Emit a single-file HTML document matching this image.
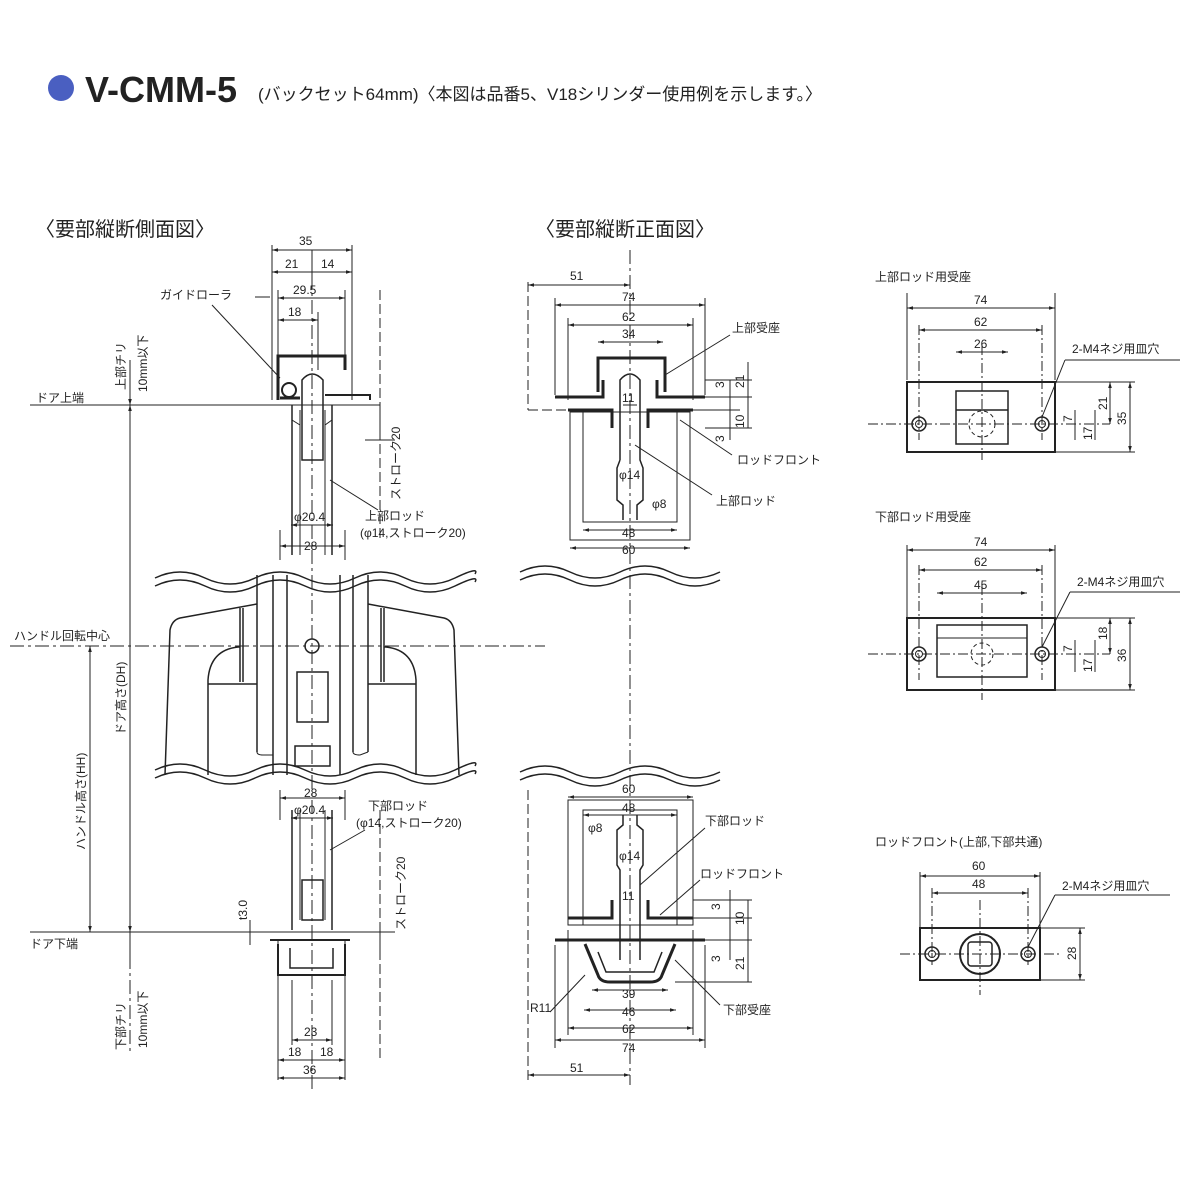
<!DOCTYPE html>
<html><head><meta charset="utf-8"><style>
body{margin:0;background:#fff}
svg{display:block}
text{font-family:"Liberation Sans","Noto Sans CJK JP",sans-serif;fill:#222}
</style></head><body>
<svg width="1200" height="1200" viewBox="0 0 1200 1200" xmlns="http://www.w3.org/2000/svg">
<defs>
<marker id="a" viewBox="0 0 10 10" refX="10" refY="5" markerWidth="6" markerHeight="6" orient="auto-start-reverse"><path d="M0,2 L10,5 L0,8z" fill="#222"/></marker>
</defs>
<!-- title -->
<circle cx="61" cy="88" r="13" fill="#4a5fc1"/>
<text x="85" y="102" font-size="36" font-weight="bold" fill="#333">V-CMM-5</text>
<text x="258" y="100" font-size="17">(バックセット64mm)〈本図は品番5、V18シリンダー使用例を示します。〉</text>
<text x="35" y="236" font-size="20">〈要部縦断側面図〉</text>
<text x="535" y="236" font-size="20">〈要部縦断正面図〉</text>

<g stroke="#222" fill="none" stroke-width="1">
<!-- LEFT: reference lines -->
<line x1="30" y1="405" x2="380" y2="405"/>
<line x1="30" y1="932" x2="380" y2="932"/>
<line x1="10" y1="646" x2="545" y2="646" stroke-dasharray="14,4,3,4"/>
<line x1="130" y1="405" x2="130" y2="1055" stroke-dasharray="14,4,3,4"/>
<line x1="130" y1="405" x2="130" y2="932" marker-start="url(#a)" marker-end="url(#a)"/>
<line x1="90" y1="646" x2="90" y2="932" marker-start="url(#a)" marker-end="url(#a)"/>
<line x1="312" y1="250" x2="312" y2="1090" stroke-dasharray="14,4,3,4"/>
<line x1="380" y1="290" x2="380" y2="540" stroke-dasharray="10,4"/>
<line x1="380" y1="810" x2="380" y2="1060" stroke-dasharray="10,4"/>
<line x1="130" y1="360" x2="130" y2="405" marker-end="url(#a)"/>
<line x1="130" y1="932" x2="130" y2="960"/>
<!-- left top dims -->
<line x1="272" y1="245" x2="272" y2="400"/><line x1="352" y1="245" x2="352" y2="400"/>
<line x1="272" y1="250" x2="352" y2="250" marker-start="url(#a)" marker-end="url(#a)"/>
<line x1="272" y1="272" x2="352" y2="272" marker-start="url(#a)" marker-end="url(#a)"/>
<line x1="312" y1="262" x2="312" y2="280"/>
<line x1="278" y1="298" x2="345" y2="298" marker-start="url(#a)" marker-end="url(#a)"/>
<line x1="278" y1="320" x2="318" y2="320" marker-start="url(#a)" marker-end="url(#a)"/>
<line x1="278" y1="290" x2="278" y2="360"/><line x1="345" y1="290" x2="345" y2="360"/><line x1="318" y1="312" x2="318" y2="370"/>
<!-- top housing -->
<path d="M278,400 L278,356 L345,356 L345,370" stroke-width="3"/>
<path d="M280,398 L300,398" stroke-width="3"/>
<path d="M325,395 L370,395 L370,400" stroke-width="2"/>
<circle cx="289" cy="390" r="7" stroke-width="2"/>
<path d="M302,460 L302,380 Q312,368 323,380 L323,460 Z" stroke-width="1.5"/>
<line x1="292" y1="405" x2="292" y2="555" stroke-width="1.5"/><line x1="332" y1="405" x2="332" y2="555" stroke-width="1.5"/>
<line x1="300" y1="410" x2="300" y2="555"/><line x1="325" y1="410" x2="325" y2="555"/>
<path d="M292,405 L292,420 L300,425" /><path d="M332,405 L332,420 L325,425"/>
<line x1="291" y1="525" x2="333" y2="525" marker-start="url(#a)" marker-end="url(#a)"/>
<line x1="280" y1="546" x2="345" y2="546" marker-start="url(#a)" marker-end="url(#a)"/>
<line x1="280" y1="530" x2="280" y2="560"/><line x1="345" y1="530" x2="345" y2="560"/>
<line x1="380" y1="405" x2="380" y2="440"/><line x1="365" y1="440" x2="395" y2="440"/>
<path d="M212,305 L280,378"/><path d="M255,297 L270,297"/>
<line x1="330" y1="480" x2="378" y2="510"/>
<!-- wave left -->
<path d="M155,578 q25,-12 50,0 t50,0 t50,0 t50,0 t50,0 t50,0 t20,-4" stroke-width="1.5"/>
<path d="M155,586 q25,-12 50,0 t50,0 t50,0 t50,0 t50,0 t50,0 t20,-4" stroke-width="1.5"/>
<path d="M155,770 q25,-12 50,0 t50,0 t50,0 t50,0 t50,0 t50,0 t20,-4" stroke-width="1.5"/>
<path d="M155,778 q25,-12 50,0 t50,0 t50,0 t50,0 t50,0 t50,0 t20,-4" stroke-width="1.5"/>
<!-- door edges -->
<line x1="257" y1="575" x2="257" y2="752" stroke-width="1.5"/><line x1="273" y1="575" x2="273" y2="775" stroke-width="1.5"/><line x1="287" y1="575" x2="287" y2="775" stroke-width="1.5"/>
<line x1="340" y1="575" x2="340" y2="775" stroke-width="1.5"/><line x1="353" y1="575" x2="353" y2="752" stroke-width="1.5"/><line x1="368" y1="575" x2="368" y2="752" stroke-width="1.5"/>
<path d="M257,752 Q257,755 263,755 L273,755"/><path d="M353,752 Q353,755 360,755 L368,752"/>
<!-- handles -->
<path d="M165,775 L170,630 Q172,620 180,618 L257,604" stroke-width="1.5"/>
<path d="M208,775 L208,680 Q210,650 238,647 L240,647 M208,684 L257,684 M240,608 L240,682 M243,608 L243,682" stroke-width="1.5"/>
<path d="M459,775 L454,630 Q452,620 444,618 L368,604" stroke-width="1.5"/>
<path d="M416,775 L416,680 Q414,650 386,647 L384,647 M416,684 L368,684 M384,608 L384,682 M381,608 L381,682" stroke-width="1.5"/>
<circle cx="312" cy="646" r="7" stroke-width="1.5"/>
<rect x="297" y="672" width="31" height="50" stroke-width="1.5"/>
<rect x="295" y="746" width="35" height="20" stroke-width="1.5"/>
<!-- bottom housing -->
<line x1="292" y1="810" x2="292" y2="930" stroke-width="1.5"/><line x1="332" y1="810" x2="332" y2="930" stroke-width="1.5"/>
<line x1="300" y1="810" x2="300" y2="920"/><line x1="325" y1="810" x2="325" y2="920"/>
<rect x="302" y="880" width="21" height="40" stroke-width="1.5"/>
<line x1="280" y1="790" x2="280" y2="820"/><line x1="345" y1="790" x2="345" y2="820"/>
<line x1="280" y1="798" x2="345" y2="798" marker-start="url(#a)" marker-end="url(#a)"/>
<line x1="291" y1="818" x2="333" y2="818" marker-start="url(#a)" marker-end="url(#a)"/>
<path d="M270,940 L350,940 M278,944 L278,975 L345,975 L345,944" stroke-width="2"/>
<path d="M290,948 L290,968 L333,968 L333,948" stroke-width="1.5"/>
<line x1="278" y1="940" x2="278" y2="1080"/><line x1="345" y1="940" x2="345" y2="1080"/>
<line x1="292" y1="980" x2="292" y2="1045"/><line x1="332" y1="980" x2="332" y2="1045"/>
<line x1="292" y1="1040" x2="332" y2="1040" marker-start="url(#a)" marker-end="url(#a)"/>
<line x1="278" y1="1060" x2="345" y2="1060" marker-start="url(#a)" marker-end="url(#a)"/>
<line x1="278" y1="1078" x2="345" y2="1078" marker-start="url(#a)" marker-end="url(#a)"/>
<line x1="380" y1="932" x2="380" y2="960"/><line x1="365" y1="932" x2="395" y2="932"/>
<line x1="330" y1="850" x2="365" y2="830"/>
<line x1="250" y1="920" x2="250" y2="945"/>

<!-- MIDDLE top -->
<line x1="630" y1="250" x2="630" y2="1085" stroke-dasharray="14,4,3,4"/>
<line x1="528" y1="282" x2="528" y2="410" stroke-dasharray="10,4"/><line x1="528" y1="410" x2="570" y2="410" stroke-dasharray="10,4"/>
<line x1="528" y1="285" x2="630" y2="285" marker-start="url(#a)" marker-end="url(#a)"/>
<line x1="555" y1="305" x2="705" y2="305" marker-start="url(#a)" marker-end="url(#a)"/>
<line x1="568" y1="325" x2="693" y2="325" marker-start="url(#a)" marker-end="url(#a)"/>
<line x1="598" y1="342" x2="663" y2="342" marker-start="url(#a)" marker-end="url(#a)"/>
<line x1="555" y1="298" x2="555" y2="395"/><line x1="705" y1="298" x2="705" y2="395"/>
<line x1="568" y1="318" x2="568" y2="400"/><line x1="693" y1="318" x2="693" y2="400"/>
<path d="M598,392 L598,358 L665,358 L665,392" stroke-width="3"/>
<path d="M555,397 L603,397 L603,380 M657,380 L657,397 L705,397" stroke-width="3"/>
<path d="M568,410 L612,410 L612,428 M648,428 L648,410 L693,410" stroke-width="3"/>
<path d="M620,460 L620,380 Q630,368 640,380 L640,460 L643,468 L643,500 L637,505 L637,520 M620,460 L617,468 L617,500 L623,505 L623,520" stroke-width="1.5"/>
<rect x="570" y="412" width="120" height="128"/>
<rect x="583" y="412" width="94" height="110"/>
<line x1="583" y1="530" x2="677" y2="530" marker-start="url(#a)" marker-end="url(#a)"/>
<line x1="570" y1="548" x2="690" y2="548" marker-start="url(#a)" marker-end="url(#a)"/>
<line x1="623" y1="405" x2="637" y2="405"/>
<line x1="705" y1="380" x2="752" y2="380"/><line x1="705" y1="397" x2="752" y2="397"/><line x1="705" y1="428" x2="752" y2="428"/><line x1="693" y1="410" x2="740" y2="410"/>
<line x1="748" y1="362" x2="748" y2="428"/><line x1="730" y1="380" x2="730" y2="440"/>
<line x1="665" y1="375" x2="730" y2="335"/><line x1="680" y1="420" x2="732" y2="455"/><line x1="635" y1="445" x2="712" y2="495"/>
<path d="M520,572 q25,-12 50,0 t50,0 t50,0 t50,0" stroke-width="1.5"/>
<path d="M520,580 q25,-12 50,0 t50,0 t50,0 t50,0" stroke-width="1.5"/>
<path d="M520,772 q25,-12 50,0 t50,0 t50,0 t50,0" stroke-width="1.5"/>
<path d="M520,780 q25,-12 50,0 t50,0 t50,0 t50,0" stroke-width="1.5"/>
<line x1="528" y1="790" x2="528" y2="1080" stroke-dasharray="10,4"/>
<!-- middle bottom -->
<line x1="568" y1="797" x2="693" y2="797" marker-start="url(#a)" marker-end="url(#a)"/>
<line x1="583" y1="815" x2="677" y2="815" marker-start="url(#a)" marker-end="url(#a)"/>
<rect x="568" y="800" width="125" height="125"/>
<rect x="583" y="810" width="94" height="115"/>
<path d="M620,960 L620,870 L617,865 L617,830 L623,825 L623,815 M640,960 L640,870 L643,865 L643,830 L637,825 L637,815" stroke-width="1.5"/>
<path d="M568,918 L612,918 L612,900 M648,900 L648,918 L693,918" stroke-width="3"/>
<path d="M555,940 L705,940" stroke-width="3"/>
<path d="M585,944 L598,975 Q600,982 610,982 L650,982 Q660,982 662,975 L675,944" stroke-width="3"/>
<path d="M598,952 L606,972 L654,972 L662,952" stroke-width="1.5"/>
<line x1="592" y1="990" x2="668" y2="990" marker-start="url(#a)" marker-end="url(#a)"/>
<line x1="584" y1="1010" x2="676" y2="1010" marker-start="url(#a)" marker-end="url(#a)"/>
<line x1="568" y1="1028" x2="693" y2="1028" marker-start="url(#a)" marker-end="url(#a)"/>
<line x1="555" y1="1040" x2="705" y2="1040" marker-start="url(#a)" marker-end="url(#a)"/>
<line x1="528" y1="1075" x2="630" y2="1075" marker-start="url(#a)" marker-end="url(#a)"/>
<line x1="555" y1="945" x2="555" y2="1048"/><line x1="705" y1="945" x2="705" y2="1048"/><line x1="568" y1="930" x2="568" y2="1035"/><line x1="693" y1="930" x2="693" y2="1035"/>
<line x1="693" y1="900" x2="752" y2="900"/><line x1="693" y1="918" x2="752" y2="918"/><line x1="705" y1="940" x2="752" y2="940"/><line x1="675" y1="982" x2="752" y2="982"/>
<line x1="748" y1="900" x2="748" y2="982"/><line x1="730" y1="890" x2="730" y2="960"/>
<line x1="640" y1="885" x2="705" y2="828"/><line x1="660" y1="915" x2="700" y2="880"/><line x1="675" y1="960" x2="720" y2="1005"/><line x1="550" y1="1012" x2="585" y2="975"/>

<!-- RIGHT plate 1 -->
<line x1="907" y1="293" x2="907" y2="380"/><line x1="1055" y1="293" x2="1055" y2="380"/>
<line x1="907" y1="308" x2="1055" y2="308" marker-start="url(#a)" marker-end="url(#a)"/>
<line x1="919" y1="330" x2="1042" y2="330" marker-start="url(#a)" marker-end="url(#a)"/>
<line x1="956" y1="352" x2="1008" y2="352" marker-start="url(#a)" marker-end="url(#a)"/>
<line x1="919" y1="325" x2="919" y2="440" stroke-dasharray="10,3,2,3"/><line x1="1042" y1="325" x2="1042" y2="440" stroke-dasharray="10,3,2,3"/>
<rect x="907" y="382" width="148" height="70" stroke-width="2"/>
<rect x="956" y="391" width="52" height="53" stroke-width="1.5"/><line x1="956" y1="410" x2="1008" y2="410" stroke-width="1.5"/>
<circle cx="919" cy="424" r="7" stroke-width="1.5"/><circle cx="919" cy="424" r="3.5"/>
<circle cx="1042" cy="424" r="7" stroke-width="1.5"/><circle cx="1042" cy="424" r="3.5"/>
<circle cx="982" cy="424" r="13" stroke-dasharray="4,3"/>
<line x1="868" y1="424" x2="1110" y2="424" stroke-dasharray="10,3,2,3"/>
<line x1="982" y1="345" x2="982" y2="460" stroke-dasharray="10,3,2,3"/>
<line x1="1055" y1="382" x2="1135" y2="382"/><line x1="1055" y1="452" x2="1135" y2="452"/>
<line x1="1130" y1="382" x2="1130" y2="452" marker-start="url(#a)" marker-end="url(#a)"/>
<line x1="1110" y1="382" x2="1110" y2="424" marker-start="url(#a)" marker-end="url(#a)"/>
<line x1="1095" y1="410" x2="1095" y2="440"/><line x1="1075" y1="410" x2="1075" y2="440"/>
<line x1="1042" y1="417" x2="1065" y2="360"/><line x1="1065" y1="360" x2="1180" y2="360"/>
<!-- plate 2 -->
<line x1="907" y1="545" x2="907" y2="618"/><line x1="1055" y1="545" x2="1055" y2="618"/>
<line x1="907" y1="550" x2="1055" y2="550" marker-start="url(#a)" marker-end="url(#a)"/>
<line x1="919" y1="570" x2="1042" y2="570" marker-start="url(#a)" marker-end="url(#a)"/>
<line x1="937" y1="593" x2="1027" y2="593" marker-start="url(#a)" marker-end="url(#a)"/>
<line x1="919" y1="565" x2="919" y2="680" stroke-dasharray="10,3,2,3"/><line x1="1042" y1="565" x2="1042" y2="680" stroke-dasharray="10,3,2,3"/>
<rect x="907" y="618" width="148" height="72" stroke-width="2"/>
<rect x="937" y="625" width="90" height="52" stroke-width="1.5"/><line x1="937" y1="638" x2="1027" y2="638"/>
<circle cx="919" cy="654" r="7" stroke-width="1.5"/><circle cx="919" cy="654" r="3.5"/>
<circle cx="1042" cy="654" r="7" stroke-width="1.5"/><circle cx="1042" cy="654" r="3.5"/>
<circle cx="982" cy="654" r="11" stroke-dasharray="4,3"/>
<line x1="868" y1="654" x2="1110" y2="654" stroke-dasharray="10,3,2,3"/>
<line x1="982" y1="585" x2="982" y2="700" stroke-dasharray="10,3,2,3"/>
<line x1="1055" y1="618" x2="1135" y2="618"/><line x1="1055" y1="690" x2="1135" y2="690"/>
<line x1="1130" y1="618" x2="1130" y2="690" marker-start="url(#a)" marker-end="url(#a)"/>
<line x1="1110" y1="618" x2="1110" y2="654" marker-start="url(#a)" marker-end="url(#a)"/>
<line x1="1095" y1="640" x2="1095" y2="672"/><line x1="1075" y1="640" x2="1075" y2="672"/>
<line x1="1042" y1="647" x2="1070" y2="592"/><line x1="1070" y1="592" x2="1180" y2="592"/>
<!-- plate 3 -->
<line x1="920" y1="872" x2="920" y2="928"/><line x1="1040" y1="872" x2="1040" y2="928"/>
<line x1="920" y1="876" x2="1040" y2="876" marker-start="url(#a)" marker-end="url(#a)"/>
<line x1="932" y1="893" x2="1028" y2="893" marker-start="url(#a)" marker-end="url(#a)"/>
<line x1="932" y1="888" x2="932" y2="965" stroke-dasharray="10,3,2,3"/><line x1="1028" y1="888" x2="1028" y2="965" stroke-dasharray="10,3,2,3"/>
<rect x="920" y="928" width="120" height="52" stroke-width="2"/>
<circle cx="932" cy="954" r="7" stroke-width="1.5"/><circle cx="932" cy="954" r="3.5"/>
<circle cx="1028" cy="954" r="7" stroke-width="1.5"/><circle cx="1028" cy="954" r="3.5"/>
<circle cx="980" cy="954" r="20" stroke-width="2"/>
<rect x="968" y="942" width="24" height="24" rx="3" stroke-width="1.5"/>
<line x1="900" y1="954" x2="1060" y2="954" stroke-dasharray="10,3,2,3"/>
<line x1="980" y1="900" x2="980" y2="995" stroke-dasharray="10,3,2,3"/>
<line x1="1040" y1="928" x2="1085" y2="928"/><line x1="1040" y1="980" x2="1085" y2="980"/>
<line x1="1080" y1="928" x2="1080" y2="980" marker-start="url(#a)" marker-end="url(#a)"/>
<line x1="1028" y1="947" x2="1055" y2="895"/><line x1="1055" y1="895" x2="1170" y2="895"/>
</g>

<g font-size="12">
<text x="299" y="245">35</text><text x="285" y="268">21</text><text x="321" y="268">14</text>
<text x="293" y="294">29.5</text><text x="288" y="316">18</text>
<text x="160" y="299">ガイドローラ</text>
<text x="36" y="402">ドア上端</text><text x="30" y="948">ドア下端</text>
<text x="14" y="640">ハンドル回転中心</text>
<text x="294" y="521">φ20.4</text><text x="304" y="550">28</text>
<text x="365" y="520">上部ロッド</text><text x="360" y="537">(φ14,ストローク20)</text>
<text x="304" y="797">28</text><text x="294" y="814">φ20.4</text>
<text x="368" y="810">下部ロッド</text><text x="356" y="827">(φ14,ストローク20)</text>
<text x="304" y="1036">23</text><text x="288" y="1056">18</text><text x="320" y="1056">18</text><text x="303" y="1074">36</text>
<text transform="translate(125,390) rotate(-90)">上部チリ</text>
<text transform="translate(147,392) rotate(-90)">10mm以下</text>
<text transform="translate(125,1050) rotate(-90)">下部チリ</text>
<text transform="translate(147,1048) rotate(-90)">10mm以下</text>
<text transform="translate(125,735) rotate(-90)">ドア高さ(DH)</text>
<text transform="translate(85,850) rotate(-90)">ハンドル高さ(HH)</text>
<text transform="translate(400,500) rotate(-90)">ストローク20</text>
<text transform="translate(405,930) rotate(-90)">ストローク20</text>
<text transform="translate(247,920) rotate(-90)">t3.0</text>

<text x="570" y="280">51</text><text x="622" y="301">74</text><text x="622" y="321">62</text><text x="622" y="338">34</text>
<text x="732" y="332">上部受座</text><text x="622" y="402">11</text>
<text x="737" y="464">ロッドフロント</text><text x="716" y="505">上部ロッド</text>
<text x="619" y="479">φ14</text><text x="652" y="508">φ8</text><text x="622" y="537">48</text><text x="622" y="554">60</text>
<text x="622" y="793">60</text><text x="622" y="812">48</text><text x="588" y="832">φ8</text><text x="619" y="860">φ14</text>
<text x="705" y="825">下部ロッド</text><text x="700" y="878">ロッドフロント</text><text x="622" y="900">11</text>
<text x="530" y="1012">R11</text><text x="622" y="998">39</text><text x="622" y="1016">46</text><text x="622" y="1033">62</text><text x="622" y="1052">74</text>
<text x="570" y="1072">51</text><text x="723" y="1014">下部受座</text>
<text transform="translate(724,388) rotate(-90)">3</text><text transform="translate(744,388) rotate(-90)">21</text>
<text transform="translate(744,428) rotate(-90)">10</text><text transform="translate(724,442) rotate(-90)">3</text>
<text transform="translate(720,910) rotate(-90)">3</text><text transform="translate(744,925) rotate(-90)">10</text>
<text transform="translate(720,962) rotate(-90)">3</text><text transform="translate(744,970) rotate(-90)">21</text>

<text x="875" y="281">上部ロッド用受座</text>
<text x="974" y="304">74</text><text x="974" y="326">62</text><text x="974" y="348">26</text>
<text x="1072" y="353">2-M4ネジ用皿穴</text>
<text transform="translate(1107,410) rotate(-90)">21</text><text transform="translate(1126,425) rotate(-90)">35</text>
<text transform="translate(1072,422) rotate(-90)">7</text><text transform="translate(1092,440) rotate(-90)">17</text>
<text x="875" y="521">下部ロッド用受座</text>
<text x="974" y="546">74</text><text x="974" y="566">62</text><text x="974" y="589">45</text>
<text x="1077" y="586">2-M4ネジ用皿穴</text>
<text transform="translate(1107,640) rotate(-90)">18</text><text transform="translate(1126,662) rotate(-90)">36</text>
<text transform="translate(1072,652) rotate(-90)">7</text><text transform="translate(1092,672) rotate(-90)">17</text>
<text x="875" y="846">ロッドフロント(上部,下部共通)</text>
<text x="972" y="870">60</text><text x="972" y="888">48</text>
<text x="1062" y="890">2-M4ネジ用皿穴</text>
<text transform="translate(1076,960) rotate(-90)">28</text>
</g>
</svg>
</body></html>
